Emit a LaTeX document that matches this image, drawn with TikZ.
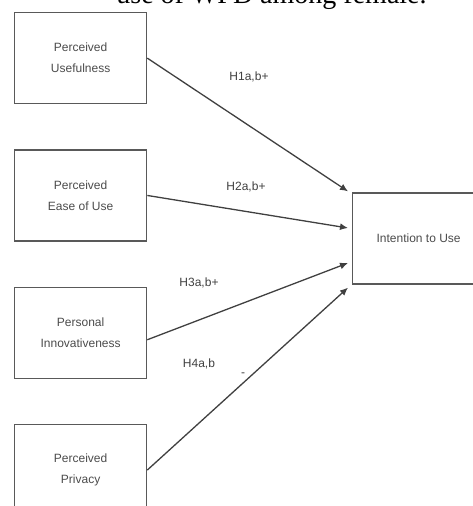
\documentclass[tikz,border=0pt]{standalone}
\usepackage{fontspec}
\setmainfont{Liberation Sans}
\newfontfamily\captionserif{Liberation Serif}
\usetikzlibrary{arrows.meta, positioning, calc}

\begin{document}
\begin{tikzpicture}[
    x=1pt, y=-1pt,
    node distance=45pt,
    block/.style={
      rectangle, draw=black!65, line width=1.3pt, fill=white,
      minimum height=91pt, minimum width=132pt,
      align=center, text=black!70, font=\fontsize{12}{21}\selectfont,
      inner sep=4pt
    },
    hyp/.style={text=black!75, font=\fontsize{12}{14}\selectfont, inner sep=1pt},
    arrow/.style={-{Latex[length=8pt, width=7pt]}, line width=1.3pt, draw=black!75}
  ]
    \useasboundingbox (0,0) rectangle (473,506);
    \clip (0,0) rectangle (473,506);

    % caption of the figure, only its lower edge shows
    \node[anchor=base, inner sep=0pt, font=\captionserif\fontsize{28}{30}\selectfont] (caption) at (271.5,4) {use of WPD among female.};

    \node[block, anchor=north west] (pu) at (14,12) {Perceived\\Usefulness};
    \node[block, below=of pu] (peou) {Perceived\\Ease of Use};
    \node[block, below=of peou] (pi) {Personal\\Innovativeness};
    \node[block, below=of pi] (pp) {Perceived\\Privacy};
    \node[block, anchor=west] (itu) at (352,238.5) {Intention to Use};

    \coordinate (e1) at ($(itu.north west)+(-4,-1)$);
    \coordinate (e2) at ($(itu.west)+(-4,-10.5)$);
    \coordinate (e3) at ($(itu.west)+(-4,24.5)$);
    \coordinate (e4) at ($(itu.south west)+(-4,3)$);

    \draw[arrow] (pu.east) -- (e1);
    \draw[arrow] (peou.east) -- (e2);
    \draw[arrow] ([yshift=-7pt]pi.east) -- (e3);
    \draw[arrow] (pp.east) -- (e4);

    \node[hyp] (h1) at (249,77) {H1a,b+};
    \node[hyp] (h2) at (246,187) {H2a,b+};
    \node[hyp] (h3) at (199,283) {H3a,b+};
    \node[hyp] (h4) at (199,364) {H4a,b};
    \node[hyp] (h4m) at (243,375) {-};
  \end{tikzpicture}
\end{document}
